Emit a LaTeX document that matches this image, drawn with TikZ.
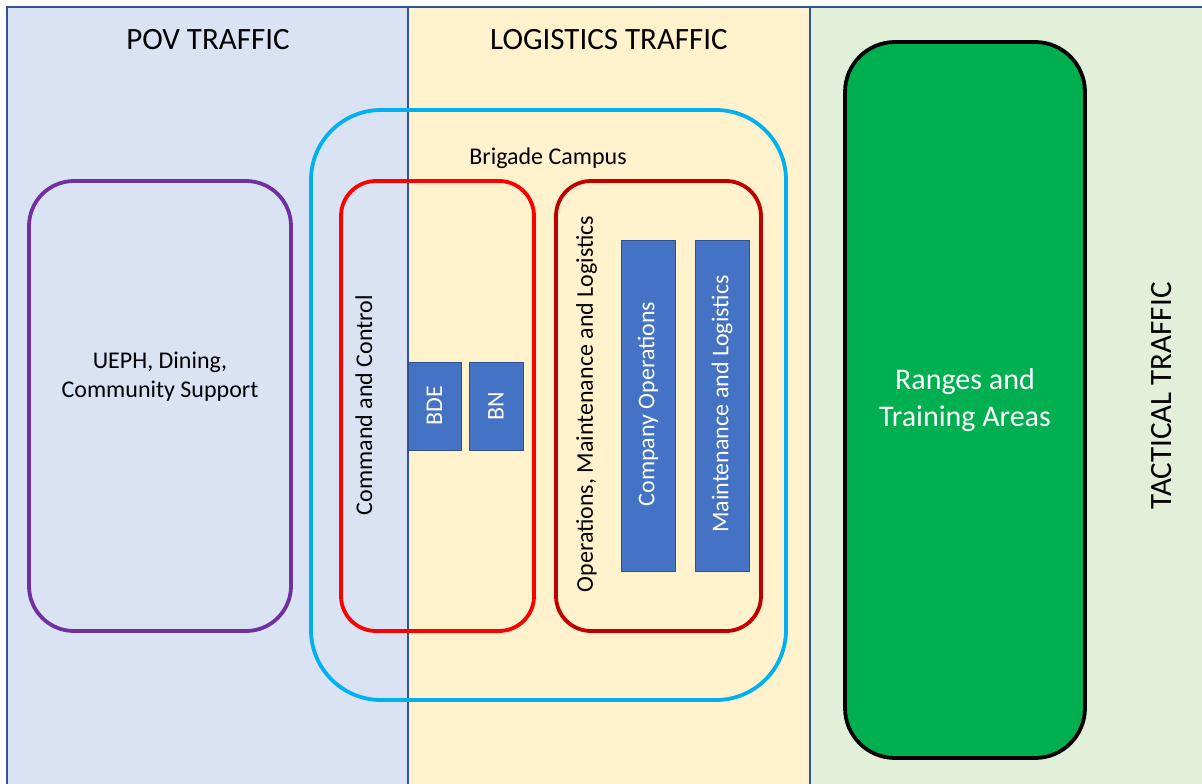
\documentclass[tikz,border=0pt]{standalone}
\usepackage{fontspec}
\setmainfont{Carlito}
\definecolor{lanepov}{HTML}{DAE3F3}
\definecolor{lanelog}{HTML}{FFF2CC}
\definecolor{lanetac}{HTML}{E2F0D9}
\definecolor{laneline}{HTML}{2F5597}
\definecolor{purp}{HTML}{7030A0}
\definecolor{campus}{HTML}{00B0F0}
\definecolor{cred}{HTML}{FF0000}
\definecolor{dred}{HTML}{C00000}
\definecolor{boxblue}{HTML}{4472C4}
\definecolor{boxedge}{HTML}{2F528F}
\definecolor{rgreen}{HTML}{00B050}
\tikzset{
  zone/.style={line width=3.8pt, rounded corners=#1},
  unitbox/.style={fill=boxblue, draw=boxedge, line width=1pt},
  lbl/.style={inner sep=0pt, font=\fontsize{24}{29}\selectfont, align=center},
  wlbl/.style={lbl, text=white},
  title/.style={inner sep=0pt, font=\fontsize{31}{36}\selectfont},
}
\begin{document}
\begin{tikzpicture}[x=1pt,y=-1pt]
\useasboundingbox (0,0) rectangle (1202,784);
\begin{scope}
\clip (0,0) rectangle (1202,784);
% lanes
\fill[lanepov] (7,7) rectangle (408,800);
\fill[lanelog] (408,7) rectangle (810,800);
\fill[lanetac] (810,7) rectangle (1220,800);
\draw[laneline, line width=1.5pt] (7,800) -- (7,7) -- (1220,7);
\draw[laneline, line width=2.5pt] (408,7) -- (408,800);
\draw[laneline, line width=2.5pt] (810,7) -- (810,800);
\end{scope}
\node[title] (pov) at (208,40) {POV TRAFFIC};
\node[title] (log) at (609,40) {LOGISTICS TRAFFIC};
\node[title, rotate=90] (tac) at (1162,396) {TACTICAL TRAFFIC};
% purple zone
\draw[zone=45pt, draw=purp] (29,181) rectangle (291,631);
\node[lbl] (ueph) at (160,377) {UEPH, Dining,\\Community Support};
% campus
\draw[zone=70pt, draw=campus] (311,110) rectangle (786,700);
\node[lbl] (brig) at (548,158) {Brigade Campus};
% command and control
\draw[zone=35pt, draw=cred] (341,181) rectangle (534,631);
\node[lbl, rotate=90] (cc) at (364,405) {Command and Control};
\draw[unitbox] (408,362) rectangle (461,450);
\node[wlbl, rotate=90] (bde) at (434.5,406) {BDE};
\draw[unitbox] (469,362) rectangle (523,450);
\node[wlbl, rotate=90] (bn) at (496,406) {BN};
% operations
\draw[zone=35pt, draw=dred] (556,181) rectangle (761,631);
\node[lbl, rotate=90] (oml) at (586.5,404) {Operations, Maintenance and Logistics};
\draw[unitbox] (621,240) rectangle (675,571);
\node[wlbl, rotate=90] (co) at (648,404) {Company Operations};
\draw[unitbox] (695,240) rectangle (749,571);
\node[wlbl, rotate=90] (ml) at (722,404) {Maintenance and Logistics};
% ranges
\draw[zone=50pt, draw=black, fill=rgreen] (845,42) rectangle (1085,758);
\node[lbl, text=white, font=\fontsize{30}{37}\selectfont] (rng) at (965,400) {Ranges and\\Training Areas};
\end{tikzpicture}
\end{document}
